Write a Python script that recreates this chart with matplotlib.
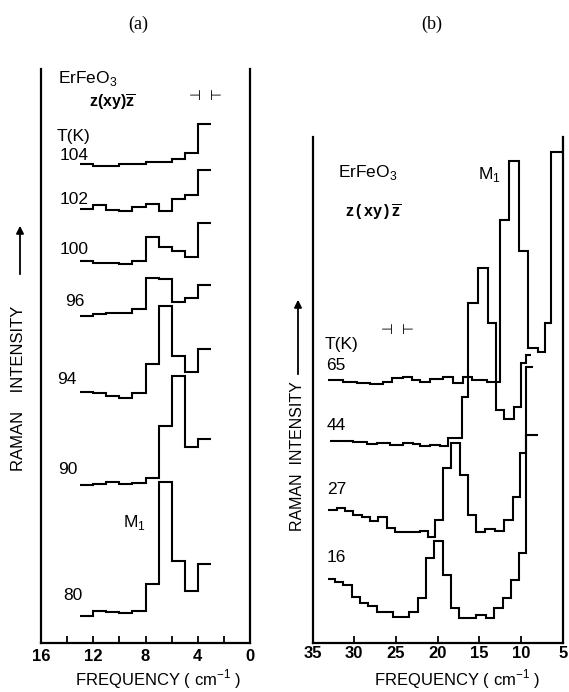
import numpy as np
import matplotlib.pyplot as plt
from matplotlib.patches import FancyArrowPatch

plt.rcParams['font.family'] = ['Liberation Sans', 'DejaVu Sans']
plt.rcParams['mathtext.fontset'] = 'custom'
plt.rcParams['mathtext.rm'] = 'Liberation Sans'
plt.rcParams['mathtext.bf'] = 'Liberation Sans:bold'

# ---- panel (a): canales de 1 cm-1, de 13 a 3 cm-1 ----
bordes_a = [13, 12, 11, 10, 9, 8, 7, 6, 5, 4, 3]
t104 = [47.9, 47.7, 47.7, 47.9, 47.9, 48.1, 48.1, 48.4, 49.0, 51.9]
t102 = [43.4, 43.8, 43.3, 43.2, 43.6, 43.9, 43.2, 44.4, 44.8, 47.3]
t100 = [38.2, 38.0, 38.0, 37.9, 38.2, 40.6, 39.6, 39.2, 38.6, 42.0]
t96 = [32.7, 32.9, 33.0, 33.0, 33.4, 36.5, 36.4, 34.1, 34.5, 35.8]
t94 = [25.1, 25.0, 24.7, 24.5, 25.0, 27.9, 33.7, 28.7, 27.1, 29.4]
t90 = [15.8, 15.9, 16.1, 15.9, 16.0, 16.5, 21.7, 26.7, 19.6, 20.4]
t80 = [2.75, 3.25, 3.1, 3.0, 3.2, 5.95, 16.15, 8.25, 5.25, 7.9]
trazas_a = [t104, t102, t100, t96, t94, t90, t80]

# ---- panel (b): cada traza con sus propios bordes ----
bordes_65 = [33.1, 31.3, 29.7, 28.1, 26.5, 25.5, 24.1, 23.1, 22.1, 20.9, 19.3, 18.1,
             16.9, 15.9, 14.1, 12.5, 11.4, 10.2, 9.2, 8.0, 7.1, 6.4, 5.0, 4.6]
t65 = [26.3, 26.1, 26.0, 25.9, 26.1, 26.5, 26.6, 26.3, 26.1, 26.4, 26.6, 26.0,
       26.6, 26.3, 26.1, 42.3, 48.2, 39.2, 29.5, 29.1, 32.0, 49.1, 55.0]
bordes_44 = [32.9, 30.1, 28.5, 27.3, 25.7, 24.1, 22.9, 22.1, 20.9, 19.7, 18.7,
             17.1, 16.4, 15.1, 14.0, 13.0, 12.0, 10.8, 10.0, 9.4, 8.8]
t44 = [20.2, 20.1, 19.9, 20.0, 19.8, 20.0, 19.9, 19.7, 19.8, 19.7,
       20.5, 24.6, 34.0, 37.5, 32.0, 23.3, 22.4, 23.6, 28.0, 28.8]
bordes_27 = [33.1, 32.1, 31.1, 30.1, 29.1, 28.1, 27.1, 26.1, 25.1, 24.1, 23.1, 22.1,
             21.1, 20.3, 19.3, 18.4, 17.3, 16.3, 15.4, 14.3, 13.1, 12.0, 11.0, 10.1, 9.4, 8.0]
t27 = [13.3, 13.5, 13.2, 12.8, 12.6, 12.2, 12.6, 11.5, 11.1, 11.1, 11.1, 11.2,
       10.6, 12.3, 17.5, 20.0, 16.8, 12.8, 11.1, 11.4, 11.2, 12.3, 14.6, 19.0, 20.8]
bordes_16 = [33.1, 32.3, 31.3, 30.3, 29.3, 28.3, 27.3, 26.3, 25.3, 24.3, 23.4, 22.4,
             21.4, 20.4, 19.4, 18.4, 17.4, 16.4, 15.4, 14.2, 13.2, 12.2, 11.2, 10.2, 9.4, 8.6]
t16 = [6.4, 6.1, 5.8, 4.6, 4.0, 3.7, 3.1, 3.1, 2.6, 2.6, 3.1, 4.5,
       8.5, 10.2, 6.8, 3.5, 2.5, 2.5, 2.8, 2.5, 3.5, 4.5, 6.3, 9.0, 27.6]
trazas_b = [(bordes_65, t65), (bordes_44, t44), (bordes_27, t27), (bordes_16, t16)]

W, H = 569, 692
fig = plt.figure(figsize=(W / 100, H / 100), dpi=100)


def ejes(left, right, top, bottom, pad):
    ax = fig.add_axes([left / W, 1 - bottom / H, (right - left) / W, (bottom - top) / H])
    ax.spines['top'].set_visible(False)
    for s in ['left', 'right', 'bottom']:
        ax.spines[s].set_linewidth(1.6)
    ax.set_yticks([])
    ax.tick_params(axis='x', which='both', direction='in', length=5, width=1.3, pad=pad,
                   labelsize=12)
    return ax


def escalera(ax, bordes, valores):
    b = np.array(bordes)[::-1]
    v = np.array(valores)[::-1]
    ax.stairs(v, b, baseline=None, color='black', lw=1.5)


# ---- (a) ----
ax1 = ejes(41, 250, 69, 643, 4)
for traza in trazas_a:
    escalera(ax1, bordes_a, traza)
ax1.set_xlim(16, 0)
ax1.set_ylim(0, 57.4)
ax1.set_xticks([16, 12, 8, 4, 0])
ax1.set_xticks([14, 10, 6, 2], minor=True)
for t in ax1.get_xticklabels():
    t.set_fontweight('bold')

ax1.text(14.7, 56.5, 'ErFeO$_3$', fontsize=12.5, va='center')
ax1.text(12.3, 54.1, r'$\mathbf{z(xy)\overline{z}}$', fontsize=11.5, va='center')
ax1.text(3.4, 54.7, '⊣  ⊢', fontsize=10, va='center', ha='center', family='DejaVu Sans')
ax1.text(14.8, 50.7, 'T(K)', fontsize=12.5, va='center')
etiquetas_a = ['104', '102', '100', '96', '94', '90', '80']
pos_a = [(14.55, 48.8), (14.55, 44.4), (14.55, 39.4), (14.15, 34.1),
         (14.8, 26.3), (14.7, 17.3), (14.3, 4.8)]
for et, (px, py) in zip(etiquetas_a, pos_a):
    ax1.text(px, py, et, fontsize=12.5, va='center')
ax1.text(9.7, 12.0, 'M$_1$', fontsize=12.5, va='center')

# ---- (b) ----
ax2 = ejes(312.5, 562.7, 137, 643, 2.5)
for bordes, traza in trazas_b:
    escalera(ax2, bordes, traza)
ax2.set_xlim(35, 5)
ax2.set_ylim(0, 50.6)
ax2.set_xticks([35, 30, 25, 20, 15, 10, 5])
for t in ax2.get_xticklabels():
    t.set_fontweight('bold')

ax2.text(32.0, 47.0, 'ErFeO$_3$', fontsize=12.5, va='center')
ax2.text(31.1, 43.1, r'$\mathbf{z\,(\,xy\,)\,\overline{z}}$', fontsize=11.5, va='center')
ax2.text(15.2, 46.8, 'M$_1$', fontsize=12.5, va='center')
ax2.text(24.8, 31.3, '⊣  ⊢', fontsize=10, va='center', ha='center', family='DejaVu Sans')
ax2.text(33.5, 29.8, 'T(K)', fontsize=12.5, va='center')
etiquetas_b = ['65', '44', '27', '16']
pos_b = [(33.4, 27.7), (33.3, 21.8), (33.3, 15.3), (33.3, 8.6)]
for et, (px, py) in zip(etiquetas_b, pos_b):
    ax2.text(px, py, et, fontsize=12.5, va='center')

# ---- textos de figura ----
fig.text(138 / W, 1 - 24 / H, '(a)', fontsize=13, family='Liberation Serif', ha='center', va='center')
fig.text(432 / W, 1 - 24 / H, '(b)', fontsize=13, family='Liberation Serif', ha='center', va='center')
fig.text(158 / W, 1 - 679 / H, 'FREQUENCY ( cm$^{-1}$ )', fontsize=12, ha='center', va='center')
fig.text(457 / W, 1 - 679 / H, 'FREQUENCY ( cm$^{-1}$ )', fontsize=12, ha='center', va='center')
fig.text(19 / W, 1 - 388 / H, 'RAMAN    INTENSITY', fontsize=12, rotation=90, ha='center', va='center')
fig.text(298 / W, 1 - 456 / H, 'RAMAN  INTENSITY', fontsize=11.5, rotation=90, ha='center', va='center')
for x, y0, y1 in [(20, 277, 223), (298, 377, 297)]:
    fig.add_artist(FancyArrowPatch((x / W, 1 - y0 / H), (x / W, 1 - y1 / H),
                                   transform=fig.transFigure, arrowstyle='-|>',
                                   mutation_scale=11, lw=1.3, color='black'))

fig.savefig('out.png', dpi=100)
